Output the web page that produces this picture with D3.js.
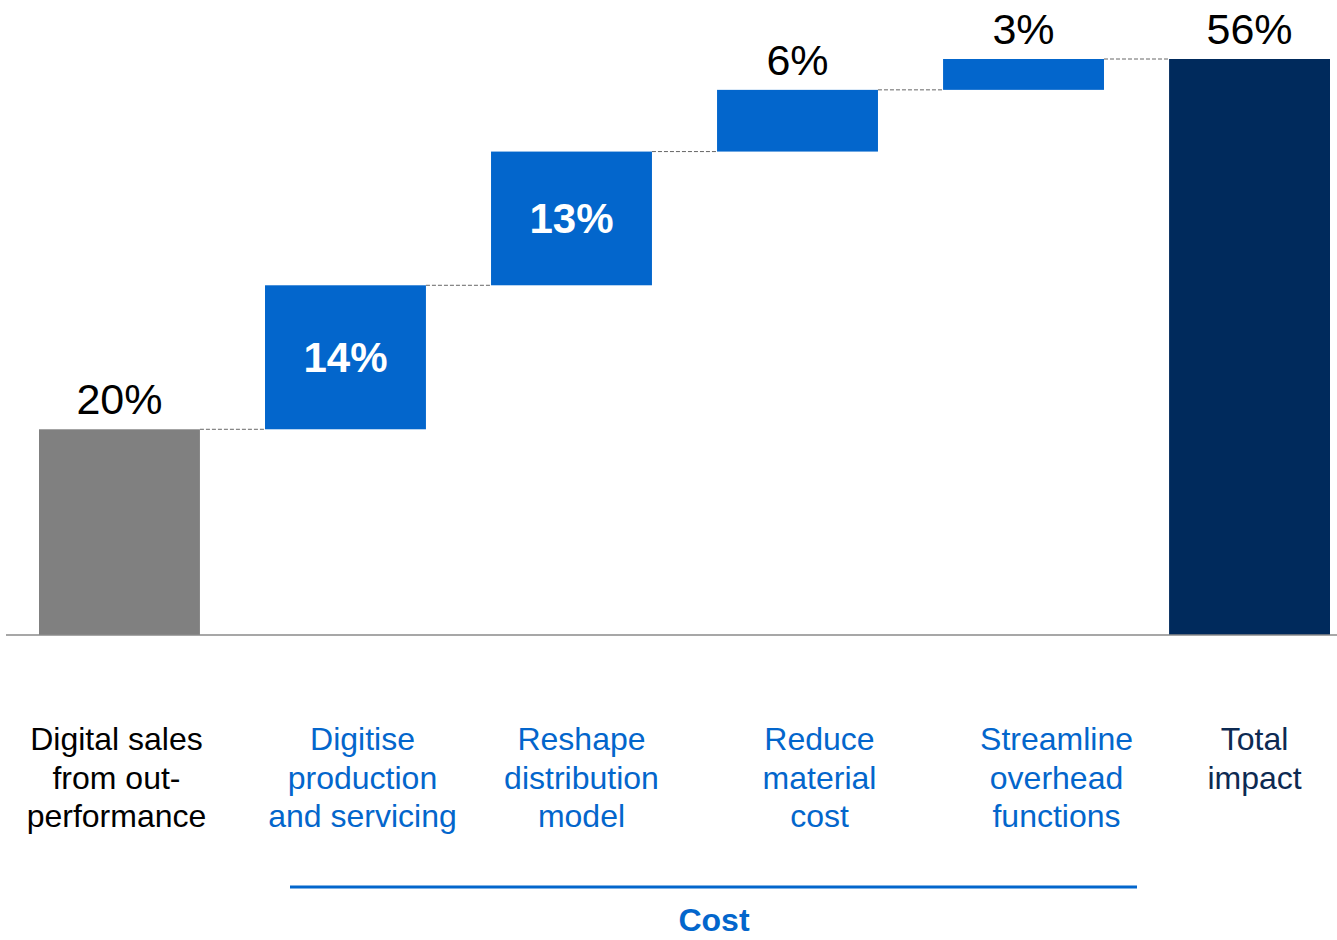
<!DOCTYPE html>
<html>
<head>
<meta charset="utf-8">
<script src="https://cdn.jsdelivr.net/npm/d3@7"></script>
<style>
  html, body { margin: 0; padding: 0; background: #fff; }
  svg { display: block; font-family: "Liberation Sans", Arial, sans-serif; }
</style>
</head>
<body>
<svg id="chart" width="1337" height="940"></svg>
<script>
// Waterfall steps: start value, four cost levers, then the total
const categories = [
  ["Digital sales", "from out-", "performance"],
  ["Digitise", "production", "and servicing"],
  ["Reshape", "distribution", "model"],
  ["Reduce", "material", "cost"],
  ["Streamline", "overhead", "functions"],
  ["Total", "impact"]
];
const values = [20, 14, 13, 6, 3, 56];
const kinds = ["start", "step", "step", "step", "step", "total"];
const groupLabel = "Cost";

// Layout
const baseY = 635, topY = 59;
const labelShift = [-3, 17, 10, 22, 33, 5];
const colors = { start: "#808080", step: "#0366cc", total: "#002a5c" };
const labelColors = { start: "#000000", step: "#0366cc", total: "#0d2a52" };

const svg = d3.select("#chart");

const x = d3.scaleBand()
  .domain(d3.range(values.length))
  .range([39, 1330])
  .paddingInner(0.288)
  .paddingOuter(0);

const y = d3.scaleLinear().domain([0, 56]).range([baseY, topY]);

// Build the floating segments
let running = 0;
const bars = values.map((v, i) => {
  let lo, hi;
  if (kinds[i] === "start") { lo = 0; hi = v; running = v; }
  else if (kinds[i] === "total") { lo = 0; hi = v; }
  else { lo = running; hi = running + v; running = hi; }
  return { i, v, lo, hi, kind: kinds[i] };
});

// Connectors between consecutive bars
const conn = svg.append("g");
bars.slice(0, -1).forEach((b, k) => {
  conn.append("line")
    .attr("x1", x(b.i) + x.bandwidth())
    .attr("x2", x(bars[k + 1].i))
    .attr("y1", y(b.hi))
    .attr("y2", y(b.hi))
    .attr("stroke", "#666666")
    .attr("stroke-width", 1)
    .attr("stroke-dasharray", "4,2");
});

// Bars
svg.append("g").selectAll("rect")
  .data(bars)
  .join("rect")
  .attr("x", d => x(d.i))
  .attr("width", x.bandwidth())
  .attr("y", d => y(d.hi))
  .attr("height", d => y(d.lo) - y(d.hi))
  .attr("fill", d => colors[d.kind]);

// Baseline
svg.append("line")
  .attr("x1", 6).attr("x2", 1337)
  .attr("y1", baseY).attr("y2", baseY)
  .attr("stroke", "#8a8a8a")
  .attr("stroke-width", 1.5);

// Value labels: inside tall step bars, above the others
const inside = d => d.kind === "step" && d.v >= 10;
svg.append("g").selectAll("text")
  .data(bars)
  .join("text")
  .attr("x", d => x(d.i) + x.bandwidth() / 2)
  .attr("y", d => inside(d) ? (y(d.lo) + y(d.hi)) / 2 + 15 : y(d.hi) - 15)
  .attr("text-anchor", "middle")
  .attr("font-size", d => inside(d) ? 42 : 43)
  .attr("font-weight", d => inside(d) ? "bold" : "normal")
  .attr("fill", d => inside(d) ? "#ffffff" : "#000000")
  .text(d => d.v + "%");

// Category labels
const cat = svg.append("g").selectAll("text")
  .data(bars)
  .join("text")
  .attr("text-anchor", "middle")
  .attr("font-size", 32)
  .attr("fill", d => labelColors[d.kind]);
cat.each(function(d) {
  const t = d3.select(this);
  categories[d.i].forEach((line, j) => {
    t.append("tspan")
      .attr("x", x(d.i) + x.bandwidth() / 2 + labelShift[d.i])
      .attr("y", 750 + j * 38.5)
      .text(line);
  });
});

// Group bracket under the cost levers
svg.append("line")
  .attr("x1", 290).attr("x2", 1137)
  .attr("y1", 887).attr("y2", 887)
  .attr("stroke", "#0366cc")
  .attr("stroke-width", 3);
svg.append("text")
  .attr("x", 714).attr("y", 931)
  .attr("text-anchor", "middle")
  .attr("font-size", 32)
  .attr("font-weight", "bold")
  .attr("fill", "#0366cc")
  .text(groupLabel);
</script>
</body>
</html>
